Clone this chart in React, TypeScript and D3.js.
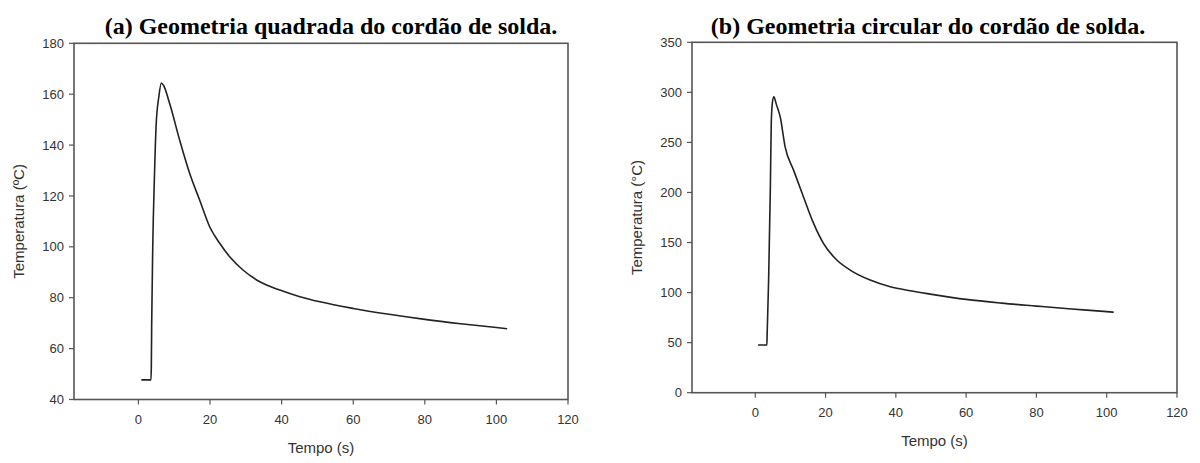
import React from "react";
import * as d3 from "d3";

// ---------- data ----------
const timeA = [0.8, 3.5, 3.6, 3.7, 4.0, 4.5, 4.95, 5.7, 6.4, 7.0, 8.7, 11.5, 14.3, 17.1, 19.9, 22.7, 25.5, 29.2, 33.9, 39.5, 45.1, 50.7, 60, 70, 80, 90, 100, 103];
const tempA = [47.7, 47.7, 52.8, 69.3, 100, 129, 148, 159, 164.4, 163.5, 156.4, 142, 128.9, 118.4, 107.9, 101.4, 96.1, 90.9, 86.3, 83, 80.4, 78.4, 75.8, 73.5, 71.5, 69.8, 68.3, 67.8];

const timeB = [0.8, 3.3, 3.4, 3.8, 4.3, 4.55, 4.9, 5.3, 6.0, 7.1, 8.5, 10.9, 13.7, 16.6, 19.4, 23.2, 27, 32.7, 38.4, 44.1, 49.8, 60, 70, 80, 90, 100, 102];
const tempB = [47.6, 47.6, 61, 112.5, 205.6, 269, 290.5, 295.5, 288, 275.5, 245.6, 222.3, 195.7, 169.1, 149.1, 132.5, 122.5, 112.5, 105.8, 101.8, 98.5, 93.2, 89.5, 86.5, 83.6, 81, 80.4];

const xTicks = [0, 20, 40, 60, 80, 100, 120];
const yTicksA = [40, 60, 80, 100, 120, 140, 160, 180];
const yTicksB = [0, 50, 100, 150, 200, 250, 300, 350];

const titleA = "(a) Geometria quadrada do cordão de solda.";
const titleB = "(b) Geometria circular do cordão de solda.";
const xLabel = "Tempo (s)";
const yLabelA = "Temperatura (ºC)";
const yLabelB = "Temperatura (°C)";

// ---------- layout ----------
type Panel = {
  title: string;
  titleX: number;
  t: number[];
  v: number[];
  yTicks: number[];
  yDomain: [number, number];
  left: number;
  right: number;
  top: number;
  bottom: number;
  yLabel: string;
  yLabelX: number;
};

const panels: Panel[] = [
  {
    title: titleA, titleX: 331, t: timeA, v: tempA, yTicks: yTicksA, yDomain: [40, 180],
    left: 74, right: 568, top: 43.3, bottom: 399.5, yLabel: yLabelA, yLabelX: 19,
  },
  {
    title: titleB, titleX: 928, t: timeB, v: tempB, yTicks: yTicksB, yDomain: [0, 350],
    left: 692, right: 1177, top: 42.3, bottom: 392.7, yLabel: yLabelB, yLabelX: 637,
  },
];

const axisColor = "#555";
const textColor = "#333";
const font = "Liberation Sans, Arial, sans-serif";

function Chart({ p }: { p: Panel }) {
  const x = d3.scaleLinear().domain([-18, 120]).range([p.left, p.right]);
  const y = d3.scaleLinear().domain(p.yDomain).range([p.bottom, p.top]);
  const pts: [number, number][] = p.t.map((t, i) => [t, p.v[i]]);
  const line = d3.line<[number, number]>().x((d) => x(d[0])).y((d) => y(d[1])).curve(d3.curveMonotoneX);
  const midY = (p.top + p.bottom) / 2;
  return (
    <g>
      <text x={p.titleX} y={34} textAnchor="middle" fontFamily="Liberation Serif, Times New Roman, serif" fontWeight="bold" fontSize={24} fill="#000">
        {p.title}
      </text>
      <rect x={p.left} y={p.top} width={p.right - p.left} height={p.bottom - p.top} fill="none" stroke={axisColor} strokeWidth={1.6} />
      {p.yTicks.map((v) => (
        <g key={"y" + v}>
          <line x1={p.left - 5} x2={p.left} y1={y(v)} y2={y(v)} stroke={axisColor} strokeWidth={1.2} />
          <text x={p.left - 10} y={y(v)} dy="0.35em" textAnchor="end" fontFamily={font} fontSize={13} fill={textColor}>
            {v}
          </text>
        </g>
      ))}
      {xTicks.map((v) => (
        <g key={"x" + v}>
          <line x1={x(v)} x2={x(v)} y1={p.bottom} y2={p.bottom + 5} stroke={axisColor} strokeWidth={1.2} />
          <text x={x(v)} y={p.bottom + 24} textAnchor="middle" fontFamily={font} fontSize={13} fill={textColor}>
            {v}
          </text>
        </g>
      ))}
      <text x={(p.left + p.right) / 2} y={p.bottom + 53} textAnchor="middle" fontFamily={font} fontSize={15} fill={textColor}>
        {xLabel}
      </text>
      <text transform={`translate(${p.yLabelX},${midY}) rotate(-90)`} dy="0.35em" textAnchor="middle" fontFamily={font} fontSize={15} fill={textColor}>
        {p.yLabel}
      </text>
      <path d={line(pts) || ""} fill="none" stroke="#222" strokeWidth={1.6} strokeLinejoin="round" />
    </g>
  );
}

export default function App() {
  return (
    <svg width={1200} height={463} style={{ position: "absolute", left: 0, top: 0, background: "#fff" }}>
      <rect width={1200} height={463} fill="#fff" />
      {panels.map((p, i) => (
        <Chart key={i} p={p} />
      ))}
    </svg>
  );
}
